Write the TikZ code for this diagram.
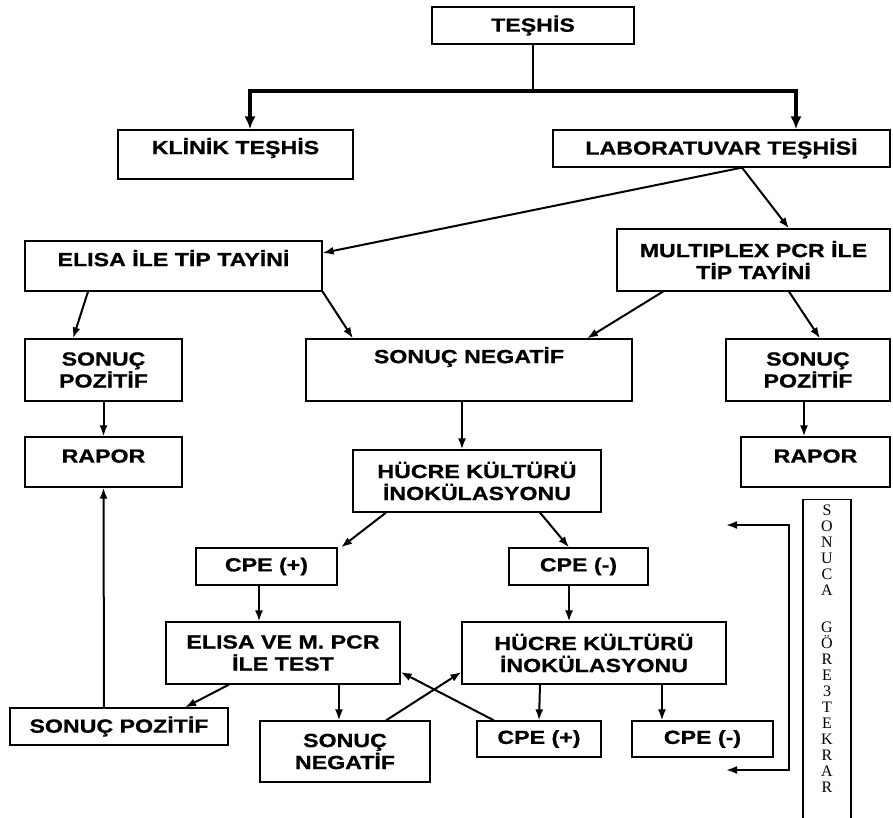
\documentclass[tikz,border=0pt]{standalone}
\usepackage{fontspec}
\usetikzlibrary{arrows.meta}
\newfontfamily\kutufont[FakeStretch=1.22,BoldFeatures={FakeBold=0.8}]{Liberation Sans}
\newfontfamily\dikfont{Liberation Serif}
\tikzset{
  kutu/.style={draw,line width=1.2pt,align=center,inner sep=0pt,
    font=\kutufont\bfseries\fontsize{19}{22}\selectfont},
  ok/.style={-{Latex[length=11pt,width=8pt]},line width=2pt},
  kalinok/.style={{Latex[length=13pt,width=11pt]}-{Latex[length=13pt,width=11pt]},line width=4pt},
}
\begin{document}
\begin{tikzpicture}[x=1pt,y=-1pt]
        \useasboundingbox (0,0) rectangle (893,818);
        % ust kisim
        \node[kutu,minimum width=202pt,minimum height=37pt](teshis)at(533,25.5){TEŞHİS};
        \node[kutu,minimum width=235pt,minimum height=49pt,text depth=17pt](klinik)at(235.5,154.5){KLİNİK TEŞHİS};
        \node[kutu,minimum width=337pt,minimum height=37pt](lab)at(721.5,148.5){LABORATUVAR TEŞHİSİ};
        \node[kutu,minimum width=297pt,minimum height=50pt,text depth=16pt](elisa)at(173.5,266){ELISA İLE TİP TAYİNİ};
        \node[kutu,minimum width=273pt,minimum height=62pt](mpcr)at(753.5,260){MULTIPLEX PCR İLE\\TİP TAYİNİ};
        % sonuclar
        \node[kutu,minimum width=157pt,minimum height=62pt](pozA)at(103.5,370){SONUÇ\\POZİTİF};
        \node[kutu,minimum width=326pt,minimum height=62pt,text depth=30pt](neg)at(469,370){SONUÇ NEGATİF};
        \node[kutu,minimum width=164pt,minimum height=62pt](pozB)at(808,370){SONUÇ\\POZİTİF};
        \node[kutu,minimum width=157pt,minimum height=50pt,text depth=12pt](raporA)at(103.5,462){RAPOR};
        \node[kutu,minimum width=248pt,minimum height=62pt](hucreA)at(477,481){HÜCRE KÜLTÜRÜ\\İNOKÜLASYONU};
        \node[kutu,minimum width=149pt,minimum height=50pt,text depth=12pt](raporB)at(815.5,462){RAPOR};
        % alt kisim
        \node[kutu,minimum width=141pt,minimum height=37pt](cpeA)at(266.5,566.5){CPE (+)};
        \node[kutu,minimum width=139pt,minimum height=37pt](cpeB)at(578.5,566.5){CPE (-)};
        \node[kutu,minimum width=234pt,minimum height=62pt](test)at(283,653){ELISA VE M. PCR\\İLE TEST};
        \node[kutu,minimum width=264pt,minimum height=62pt](hucreB)at(594,653){HÜCRE KÜLTÜRÜ\\İNOKÜLASYONU};
        \node[kutu,minimum width=218pt,minimum height=37pt](pozC)at(119,726.5){SONUÇ POZİTİF};
        \node[kutu,minimum width=170pt,minimum height=61pt](negB)at(345,751.5){SONUÇ\\NEGATİF};
        \node[kutu,minimum width=124pt,minimum height=36pt](cpeC)at(539,739){CPE (+)};
        \node[kutu,minimum width=141pt,minimum height=36pt](cpeD)at(702.5,739){CPE (-)};
        \node[draw,line width=1.2pt,minimum width=48pt,minimum height=340pt,anchor=north](tekrar)at(827,499){};
        \node[anchor=north,align=center,inner sep=0pt,font=\dikfont\fontsize{16}{16}\selectfont](tekraryazi)at([yshift=-6pt]tekrar.north){S\\O\\N\\U\\C\\A\\[21pt]G\\Ö\\R\\E\\3\\T\\E\\K\\R\\A\\R};

        \coordinate(dal)at(533,91);
        \coordinate(tekrarust)at(726,525);
        \coordinate(tekraralt)at(726,770);

        \draw[line width=1.2pt](teshis.south)--(dal);
        \draw[kalinok]([xshift=14.5pt]klinik.north)|-(dal)-|([xshift=74.5pt]lab.north);
        \draw[ok]([xshift=20.5pt]lab.south)--([yshift=13pt]elisa.east);
        \draw[ok]([xshift=20.5pt]lab.south)--([xshift=35.5pt]mpcr.north);
        \draw[ok]([xshift=-85.5pt]elisa.south)--([xshift=-30.5pt]pozA.north);
        \draw[ok](elisa.south east)--([xshift=-116pt]neg.north);
        \draw[ok]([xshift=-90.5pt]mpcr.south)--([xshift=118pt]neg.north);
        \draw[ok]([xshift=35.5pt]mpcr.south)--([xshift=12pt]pozB.north);
        \draw[ok](pozA.south)--(raporA.north);
        \draw[ok]([xshift=-7pt]neg.south)--([xshift=-15pt]hucreA.north);
        \draw[ok]([xshift=-4pt]pozB.south)--([xshift=-11.5pt]raporB.north);
        \draw[ok]([xshift=-91pt]hucreA.south)--([xshift=74.5pt]cpeA.north);
        \draw[ok]([xshift=63pt]hucreA.south)--([xshift=-9.5pt]cpeB.north);
        \draw[ok]([xshift=-7.5pt]cpeA.south)--([xshift=-24pt]test.north);
        \draw[ok]([xshift=-9.5pt]cpeB.south)--([xshift=-25pt]hucreB.north);
        \draw[ok]([xshift=-54pt]test.south)--([xshift=66pt]pozC.north);
        \draw[ok]([xshift=56pt]test.south)--([xshift=-6pt]negB.north);
        \draw[ok]([xshift=-15pt]pozC.north)--(raporA.south);
        \draw[ok]([xshift=41pt]negB.north)--([yshift=-19pt]hucreB.west);
        \draw[ok]([xshift=-45pt]cpeC.north)--([yshift=-19pt]test.east);
        \draw[ok]([xshift=-54pt]hucreB.south)--(cpeC.north);
        \draw[ok]([xshift=68pt]hucreB.south)--([xshift=-40.5pt]cpeD.north);
        \draw[{Latex[length=11pt,width=8pt]}-{Latex[length=11pt,width=8pt]},line width=2pt](tekrarust)--++(63,0)|-(tekraralt);
\end{tikzpicture}
\end{document}
